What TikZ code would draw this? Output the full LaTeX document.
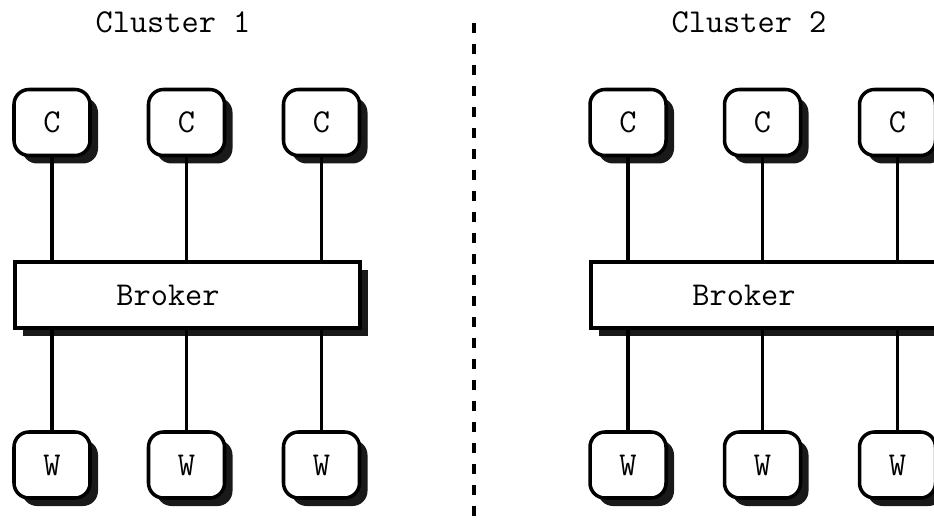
\documentclass[tikz,border=0pt]{standalone}
\usetikzlibrary{shadows,positioning}

\begin{document}
\begin{tikzpicture}[x=1cm,y=1cm,
  font=\fontsize{19}{23}\selectfont\ttfamily,
  box/.style={draw,line width=2pt,fill=white,rounded corners=0.3cm,
    minimum width=1.52cm,minimum height=1.32cm,inner sep=0pt,
    drop shadow={shadow xshift=0.16cm,shadow yshift=-0.16cm,fill=black,opacity=0.9}},
  brokerbox/.style={box,sharp corners,minimum width=6.9cm},
  link/.style={line width=2pt}]
  \path[use as bounding box,clip] (0,0) rectangle (18.68,10.42);
  % separator between the two clusters
  \coordinate (sepTop) at (9.48,9.96);
  \coordinate (sepBot) at (9.48,0);
  \draw[line width=0.08cm,dash pattern=on 0.2cm off 0.22cm] (sepTop) -- (sepBot);
  \foreach \k/\dx in {1/0,2/11.52}{
    \node (title\k) at (3.46+\dx,9.98) {Cluster \k};
    \node[brokerbox] (b\k) at (3.75+\dx,4.52) {};
    \node (bt\k) at ([xshift=-0.39cm]b\k.center) {Broker};
    \foreach \j/\x in {1/1.04,2/3.73,3/6.43}{
      \node[box] (c\k\j) at (\x+\dx,7.97) {C};
      \node[box] (w\k\j) at (\x+\dx,1.12) {W};
      \draw[link] (c\k\j) -- (c\k\j |- b\k.north);
      \draw[link] (b\k.south -| w\k\j) -- (w\k\j);
    }
  }
\end{tikzpicture}
\end{document}
